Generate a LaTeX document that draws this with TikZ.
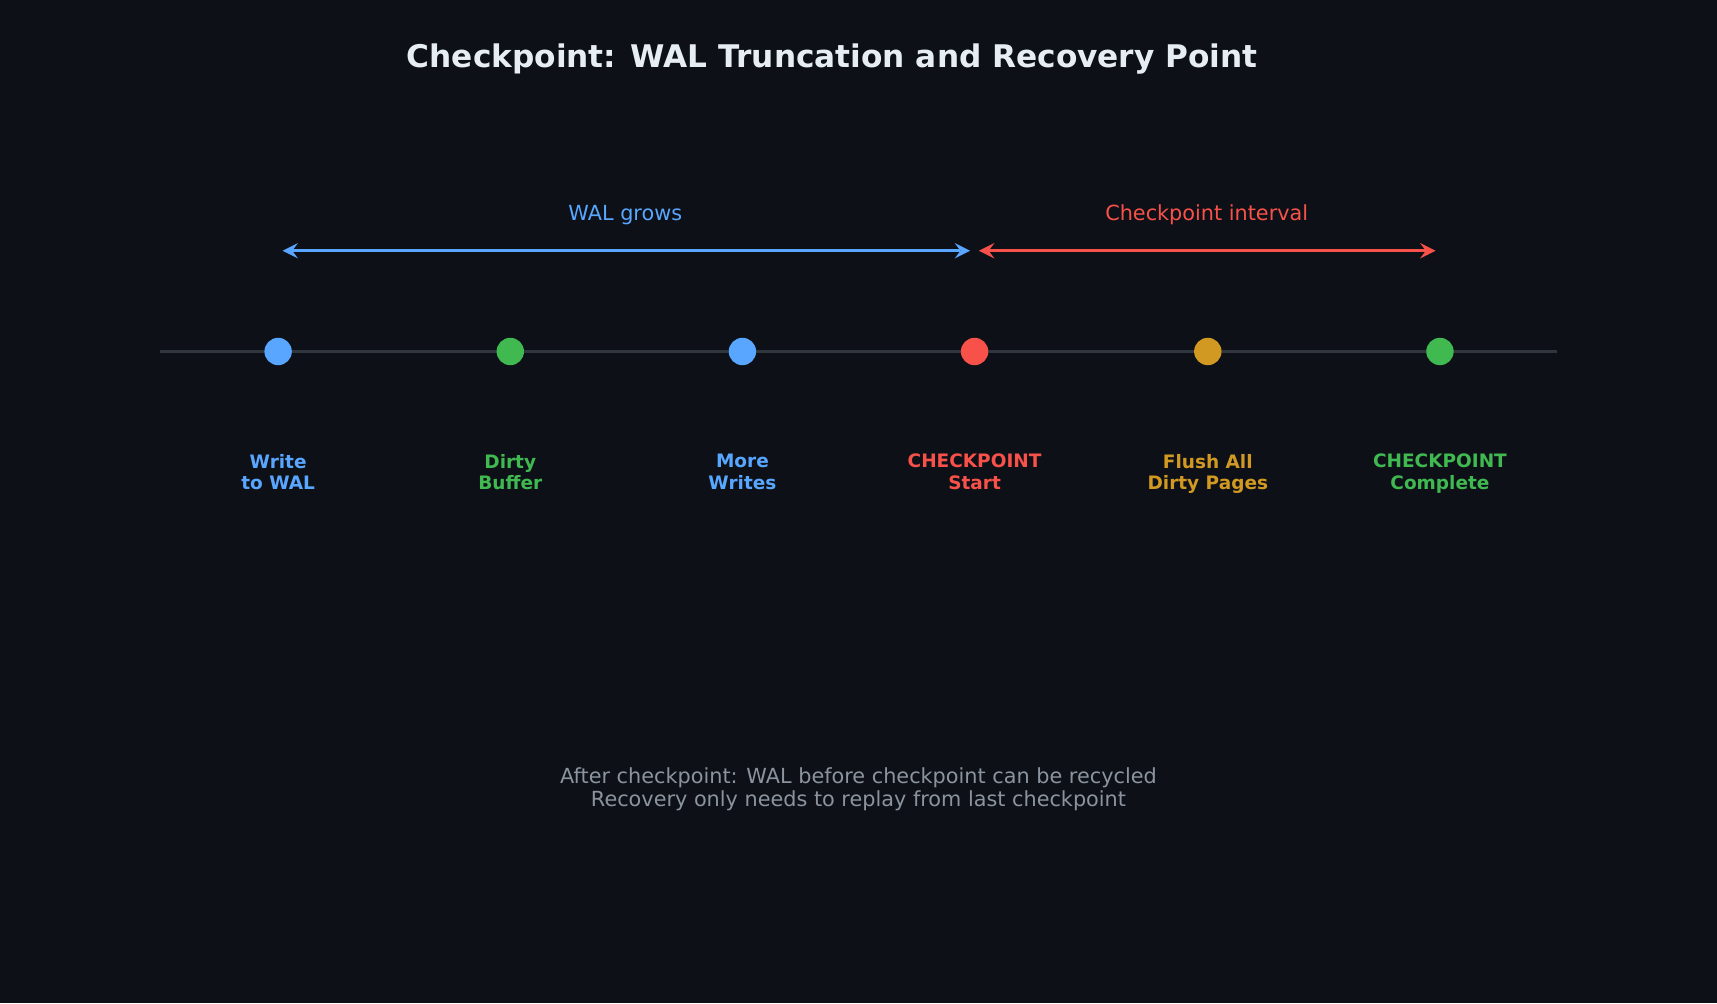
\documentclass[tikz,border=0pt]{standalone}
\usepackage{fontspec}
\setmainfont{DejaVu Sans}
\usetikzlibrary{positioning}
\definecolor{bgc}{HTML}{0D1117}
\definecolor{linec}{HTML}{30363D}
\definecolor{titlec}{HTML}{E6EDF3}
\definecolor{bluec}{HTML}{58A6FF}
\definecolor{greenc}{HTML}{3FB950}
\definecolor{redc}{HTML}{F85149}
\definecolor{goldc}{HTML}{D29922}
\definecolor{grayc}{HTML}{8B949E}
\tikzset{
	dot/.style={circle, fill=#1, minimum size=0.25cm, inner sep=0pt},
	lbl/.style={text=#1, font=\fontsize{4.8}{5.6}\selectfont\bfseries, align=center, anchor=north, inner sep=0pt},
	span/.style={draw=#1, line width=0.75pt, <->, >=stealth}
}
\begin{document}
\begin{tikzpicture}[x=0.01cm, y=-0.01cm]
	\fill[bgc] (0,0) rectangle (1568,916);
	\node[text=titlec, font=\fontsize{8.1}{9}\selectfont\bfseries] (title) at (760,54) {Checkpoint: WAL Truncation and Recovery Point};
	\draw[linec, line width=0.9pt] (146,321) -- (1422,321);
	\node[dot=bluec] (p1) at (254,321) {};
	\node[dot=greenc] (p2) at (466,321) {};
	\node[dot=bluec] (p3) at (678,321) {};
	\node[dot=redc] (p4) at (890,321) {};
	\node[dot=goldc] (p5) at (1103,321) {};
	\node[dot=greenc] (p6) at (1315,321) {};
	\node[lbl=bluec] (l1) at (254,414) {Write\\to WAL};
	\node[lbl=greenc] (l2) at (466,414) {Dirty\\Buffer};
	\node[lbl=bluec] (l3) at (678,414) {More\\Writes};
	\node[lbl=redc] (l4) at (890,414) {CHECKPOINT\\Start};
	\node[lbl=goldc] (l5) at (1103,414) {Flush All\\Dirty Pages};
	\node[lbl=greenc] (l6) at (1315,414) {CHECKPOINT\\Complete};
	\coordinate (a1) at (258,229);
	\coordinate (a2) at (886,229);
	\coordinate (b1) at (894,229);
	\coordinate (b2) at (1311,229);
	\draw[span=bluec] (a1) -- (a2);
	\draw[span=redc] (b1) -- (b2);
	\node[text=bluec, font=\fontsize{5.4}{6.5}\selectfont] (walgrows) at (571,196) {WAL grows};
	\node[text=redc, font=\fontsize{5.4}{6.5}\selectfont] (interval) at (1102,196) {Checkpoint interval};
	\node[text=grayc, font=\fontsize{5.4}{6}\selectfont, align=center] (note) at (784,721) {After checkpoint: WAL before checkpoint can be recycled\\Recovery only needs to replay from last checkpoint};
\end{tikzpicture}
\end{document}
